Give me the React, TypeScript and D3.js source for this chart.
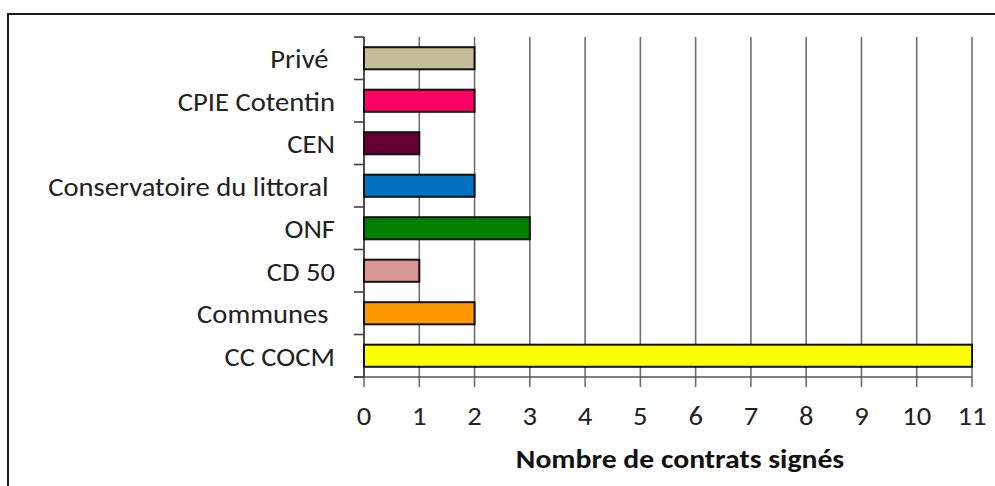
import React from 'react';
import * as d3 from 'd3';

// categories top -> bottom, as in the picture
const categories = [
  'Privé ',
  'CPIE Cotentin',
  'CEN',
  'Conservatoire du littoral ',
  'ONF',
  'CD 50',
  'Communes ',
  'CC COCM',
];
const contrats = [2, 2, 1, 2, 3, 1, 2, 11];
const barColors = ['#c4bd97', '#ff0066', '#660033', '#0070c0', '#008000', '#d99694', '#ff9900', '#ffff00'];
const xTicks = [0, 1, 2, 3, 4, 5, 6, 7, 8, 9, 10, 11];
const xTitle = 'Nombre de contrats signés';

const W = 995;
const H = 486;
const margin = {top: 37, right: 23, bottom: 109, left: 364};
const FONT = "Carlito, 'Open Sans', sans-serif";
// the source picture is a bit stretched sideways, so text gets a small x-scale
const SX = 1.1;

const App = () => {
  const innerW = W - margin.left - margin.right;
  const innerH = H - margin.top - margin.bottom;

  const xScale = d3.scaleLinear().domain([0, 11]).range([0, innerW]);
  const yScale = d3.scaleBand<string>()
    .domain(categories)
    .range([0, innerH])
    .paddingInner(0.48)
    .paddingOuter(0.24);

  const bandEdges = d3.range(categories.length + 1).map(i => i * innerH / categories.length);

  return (
    <svg width={W} height={H} style={{position: 'absolute', left: 0, top: 0, background: '#fff'}}>
      {/* outer frame */}
      <rect x={8} y={14} width={W + 10} height={H + 10} fill="none" stroke="#1a1a1a" strokeWidth={2} />
      <g transform={`translate(${margin.left},${margin.top})`}>
        {/* vertical grid lines + bottom ticks */}
        {xTicks.map(t => (
          <line key={'g' + t} x1={xScale(t)} x2={xScale(t)} y1={0} y2={innerH + 10}
                stroke="#707070" strokeWidth={1.6} />
        ))}
        {/* x axis line */}
        <line x1={-10} x2={innerW} y1={innerH} y2={innerH} stroke="#555" strokeWidth={1.6} />
        {/* y axis line and ticks */}
        <line x1={0} x2={0} y1={0} y2={innerH} stroke="#404040" strokeWidth={1.6} />
        {bandEdges.map((e, i) => (
          <line key={'yt' + i} x1={-10} x2={0} y1={e} y2={e} stroke="#404040" strokeWidth={1.6} />
        ))}
        {/* bars */}
        {categories.map((c, i) => (
          <rect key={c} x={xScale(0)} y={yScale(c)} width={xScale(contrats[i]) - xScale(0)}
                height={yScale.bandwidth()} fill={barColors[i]} stroke="#111" strokeWidth={2} />
        ))}
        {/* category labels */}
        {categories.map(c => (
          <text key={'l' + c}
                transform={`translate(-29,${(yScale(c) ?? 0) + yScale.bandwidth() / 2 + 10}) scale(${SX},1)`}
                textAnchor="end" fontFamily={FONT} fontSize={26} fill="#222"
                style={{whiteSpace: 'pre'}}>{c}</text>
        ))}
        {/* x tick labels */}
        {xTicks.map(t => (
          <text key={'xl' + t} transform={`translate(${xScale(t)},${innerH + 48}) scale(${SX},1)`}
                textAnchor="middle" fontFamily={FONT} fontSize={26} fill="#222">{t}</text>
        ))}
        <text transform={`translate(${innerW / 2 + 12},${innerH + 91}) scale(${SX},1)`}
              textAnchor="middle" fontFamily={FONT}
              fontSize={27} fontWeight="bold" fill="#111">{xTitle}</text>
      </g>
    </svg>
  );
};

export default App;
